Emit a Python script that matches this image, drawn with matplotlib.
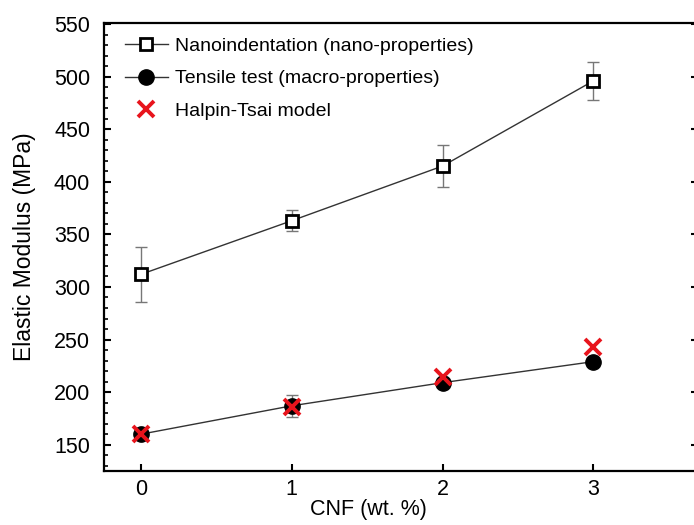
import matplotlib
matplotlib.use("Agg")
import matplotlib.pyplot as plt
from matplotlib.ticker import MultipleLocator

plt.rcParams['font.family'] = ['Liberation Sans', 'DejaVu Sans']

cnf = [0, 1, 2, 3]
nano = [312, 363, 415, 496]
nano_err = [26, 10, 20, 18]
tensile = [160, 187, 209, 229]
tensile_err = [3, 10.5, 3, 3]
halpin = [160, 186, 214, 243]

fig = plt.figure(figsize=(6.94, 5.25), dpi=100)
ax = fig.add_axes([104/694, 1 - 471/525, (697.5 - 104)/694, (471 - 23)/525])

ax.errorbar(cnf, nano, yerr=nano_err, fmt='none', ecolor='#777777', elinewidth=1, capsize=4, capthick=1, zorder=2)
ax.errorbar(cnf, tensile, yerr=tensile_err, fmt='none', ecolor='#777777', elinewidth=1, capsize=4, capthick=1, zorder=2)
ax.plot(cnf, nano, color='#333333', lw=1, marker='s', ms=8, mfc='white', mec='black', mew=2,
        label='Nanoindentation (nano-properties)', zorder=3)
ax.plot(cnf, tensile, color='#333333', lw=1, marker='o', ms=11, mfc='black', mec='black',
        label='Tensile test (macro-properties)', zorder=3)
ax.plot(cnf, halpin, ls='none', marker='x', ms=12, mec='#e8141c', mew=2.8,
        label='Halpin-Tsai model', zorder=4)

ax.set_xlim(-0.245, 3.69)
ax.set_ylim(125, 551)
ax.set_xticks(cnf)
ax.yaxis.set_major_locator(MultipleLocator(50))
ax.yaxis.set_minor_locator(MultipleLocator(10))
ax.tick_params(axis='both', which='major', direction='in', length=5, width=1.5, labelsize=15.5)
ax.tick_params(axis='y', which='minor', direction='in', length=3, width=1.2)
ax.tick_params(axis='y', right=True, which='major', pad=10)
ax.tick_params(axis='y', which='minor', right=False)
ax.tick_params(axis='x', pad=6)
for s in ax.spines.values():
    s.set_linewidth(1.6)

ax.set_xlabel('CNF (wt. %)', fontsize=15.5, va='center')
ax.xaxis.set_label_coords((368 - 104) / 593.5, (471 - 510) / 448)
ax.set_ylabel('Elastic Modulus (MPa)', fontsize=16.5, va='center')
ax.yaxis.set_label_coords((25 - 104) / 593.5, 0.5)

ax.legend(loc='upper left', frameon=False, fontsize=14, handlelength=2.2, handletextpad=0.4,
          borderpad=0, borderaxespad=0, labelspacing=0.76, bbox_to_anchor=(0.035, 0.968))

fig.savefig('out.png', dpi=100)
